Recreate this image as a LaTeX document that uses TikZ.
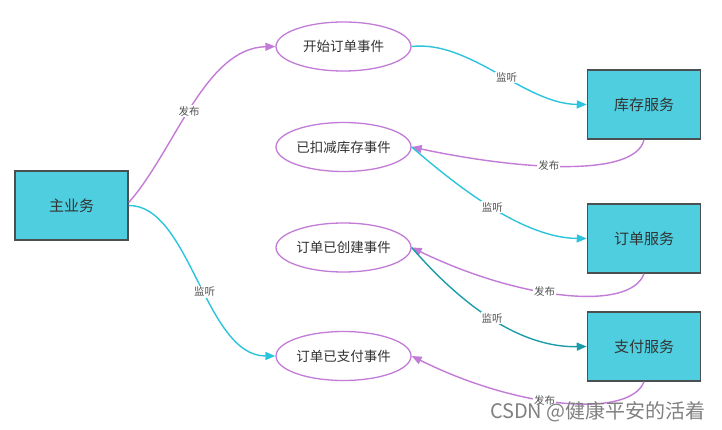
\documentclass[tikz,border=0pt]{standalone}
\usepackage{fontspec}
\setmainfont{Noto Sans CJK SC}
\usetikzlibrary{arrows.meta,shapes.geometric}
\definecolor{boxfill}{HTML}{4ECEDF}
\definecolor{boxline}{HTML}{4A4F52}
\definecolor{evline}{HTML}{C27BD6}
\definecolor{cyanline}{HTML}{2CC4DC}
\definecolor{tealline}{HTML}{1C9CA8}
\definecolor{txt}{HTML}{333333}
\tikzset{
  svc/.style={draw=boxline, line width=1.5pt, fill=boxfill, minimum width=113pt, minimum height=69pt, font=\fontsize{15}{15}\selectfont, text=txt, inner sep=0pt},
  evt/.style={ellipse, draw=evline, line width=1.3pt, fill=white, minimum width=135pt, minimum height=49pt, font=\fontsize{13.5}{13.5}\selectfont, text=txt, inner sep=0pt},
  pub/.style={draw=evline, line width=1.4pt, -{Triangle[length=10pt,width=8pt]}},
  sub/.style={draw=cyanline, line width=1.4pt, -{Triangle[length=10pt,width=8pt]}},
  subt/.style={draw=tealline, line width=1.4pt, -{Triangle[length=10pt,width=8pt]}},
  lbl/.style={fill=white, inner sep=1pt, font=\fontsize{10.5}{10.5}\selectfont, text=txt!85}
}
\begin{document}
\begin{tikzpicture}[x=1pt,y=-1pt]
\useasboundingbox (0,0) rectangle (722,430);
\node[svc] (main) at (71.5,205.5) {主业务};
\node[svc] (kc) at (644,104.5) {库存服务};
\node[svc] (dd) at (644,238.5) {订单服务};
\node[svc] (zf) at (644,346.5) {支付服务};
\node[evt] (e1) at (343.5,46.5) {开始订单事件};
\node[evt] (e2) at (343.5,147) {已扣减库存事件};
\node[evt] (e3) at (343.5,247.5) {订单已创建事件};
\node[evt] (e4) at (343.5,356) {订单已支付事件};

\draw[pub] ([yshift=3pt]main.east) .. controls (175,150) and (205,48) .. (e1.west)
  node[lbl, pos=0.47] {发布};
\draw[sub] (main.east) .. controls (190,205) and (205,356) .. (e4.west)
  node[lbl, pos=0.55] {监听};
\draw[sub] (e1.east) .. controls (470,40) and (525,104) .. (kc.west)
  node[lbl, pos=0.55] {监听};
\draw[pub] (kc.south) .. controls (635,178) and (520,170) .. (e2.east)
  node[lbl, pos=0.56] {发布};
\draw[sub] (e2.east) .. controls (450,180) and (520,238) .. (dd.west)
  node[lbl, pos=0.52] {监听};
\draw[pub] (dd.south) .. controls (630,312) and (520,300) .. (e3.east)
  node[lbl, pos=0.57] {发布};
\draw[subt] (e3.east) .. controls (440,280) and (505,348) .. (zf.west)
  node[lbl, pos=0.57] {监听};
\draw[pub] (zf.south) .. controls (630,418) and (520,410) .. (e4.east)
  node[lbl, pos=0.57] {发布};

\node[anchor=south east, inner sep=0pt, text=black!50, font=\fontsize{20}{20}\selectfont] (wm) at (706,422) {CSDN @健康平安的活着};
\end{tikzpicture}
\end{document}
